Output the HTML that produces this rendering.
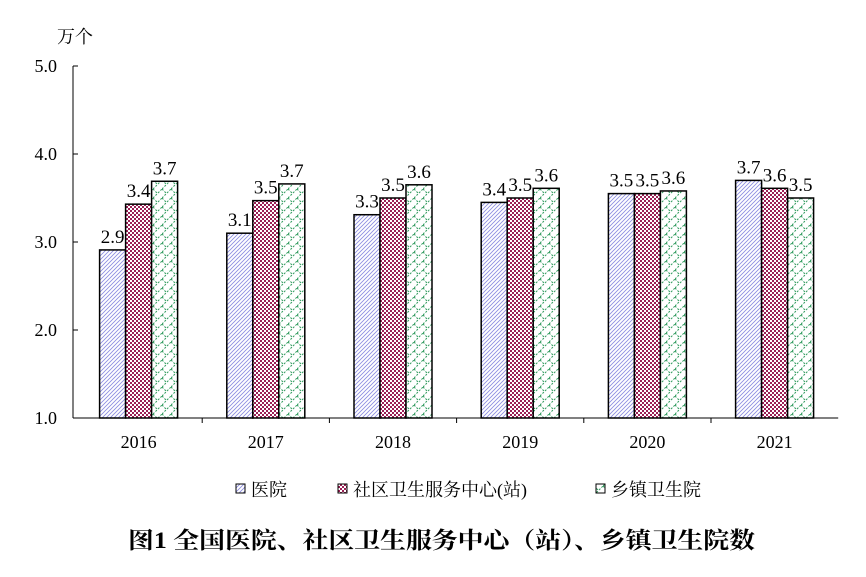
<!DOCTYPE html>
<html><head><meta charset="utf-8"><style>
body{margin:0;background:#fff;}
svg{display:block;}
text{font-family:"Liberation Serif","Noto Serif CJK SC",serif;}
</style></head><body>
<svg width="866" height="577">
<defs>
<pattern id="pH" width="4" height="4" patternUnits="userSpaceOnUse"><rect width="4" height="4" fill="#fff"/><path d="M0,4 L4,0 M-1,1 L1,-1 M3,5 L5,3" stroke="#8a8ae0" stroke-width="0.8"/></pattern>
<pattern id="pC" width="4" height="4" patternUnits="userSpaceOnUse"><rect width="4" height="4" fill="#fff"/><rect width="2" height="2" fill="#9b1f55"/><rect x="2" y="2" width="2" height="2" fill="#9b1f55"/></pattern>
<pattern id="pT" width="9" height="9" patternUnits="userSpaceOnUse"><rect width="9" height="9" fill="#fff"/><path d="M0,9 L9,0 M0,0 L4,4" stroke="#2e9a5c" stroke-width="1" stroke-dasharray="2,1.5"/></pattern>
</defs>
<g id="plot"></g>
<text x="57" y="43" style="font-size:18px">万个</text>
<text x="128" y="548" style="font-size:23px;font-weight:bold" textLength="627" lengthAdjust="spacingAndGlyphs">图1  全国医院、社区卫生服务中心（站）、乡镇卫生院数</text>
</svg>
<script>
const categories=["2016","2017","2018","2019","2020","2021"];
const hospital=[2.91,3.10,3.31,3.45,3.55,3.70];
const community=[3.43,3.47,3.50,3.50,3.55,3.61];
const township=[3.69,3.66,3.65,3.61,3.58,3.50];
const hospitalLabels=["2.9","3.1","3.3","3.4","3.5","3.7"];
const communityLabels=["3.4","3.5","3.5","3.5","3.5","3.6"];
const townshipLabels=["3.7","3.7","3.6","3.6","3.6","3.5"];
const yTicks=[1,2,3,4,5];
const seriesNames=["医院","社区卫生服务中心(站)","乡镇卫生院"];

const NS="http://www.w3.org/2000/svg";
const g=document.getElementById('plot');
const x0=75,gw=127.2,x1=x0+gw*6,yMin=1,yMax=5,py0=418,py1=66;
const y=v=>py0-(v-yMin)/(yMax-yMin)*(py0-py1);
const bw=26;
function el(t,a){const e=document.createElementNS(NS,t);for(const k in a)e.setAttribute(k,a[k]);g.appendChild(e);return e;}
let ax=el('line',{x1:73,y1:py1,x2:73,y2:py0,stroke:'#000'});


let bx=el('line',{x1:73,y1:py0,x2:x1,y2:py0,stroke:'#000'});


yTicks.forEach(v=>{
  el('line',{x1:73,y1:y(v),x2:78,y2:y(v),stroke:'#000'});
  const t=el('text',{x:57,y:y(v)+6,style:'font-size:18px','text-anchor':'end'});t.textContent=v.toFixed(1);
  
  
});
for(let i=1;i<categories.length;i++)el('line',{x1:x0+gw*i,y1:py0,x2:x0+gw*i,y2:py0+5,stroke:'#000'});
const series=[[hospital,hospitalLabels,'url(#pH)'],[community,communityLabels,'url(#pC)'],[township,townshipLabels,'url(#pT)']];
categories.forEach((c,i)=>{
  const cx=x0+gw*i+gw/2;
  const t=el('text',{x:cx,y:448,style:'font-size:18px','text-anchor':'middle'});t.textContent=c;
  
  
  series.forEach((s,j)=>{
    const bxp=cx-1.5*bw+j*bw;
    const r=el('rect',{x:bxp,y:y(s[0][i]),width:bw,height:py0-y(s[0][i]),fill:s[2],stroke:'#000','stroke-width':1.5});
    
    
    const l=el('text',{x:bxp+bw/2,y:y(s[0][i])-7,style:'font-size:19px','text-anchor':'middle'});l.textContent=s[1][i];
    
    
  });
});
const legX=[236,338,596];const fills=['url(#pH)','url(#pC)','url(#pT)'];
seriesNames.forEach((n,j)=>{
  const r=el('rect',{x:legX[j],y:484,width:9,height:9,fill:fills[j],stroke:'#000'});
  
  
  const t=el('text',{x:legX[j]+15,y:496,style:'font-size:18px'});t.textContent=n;
  
  
});
</script>
</body></html>
